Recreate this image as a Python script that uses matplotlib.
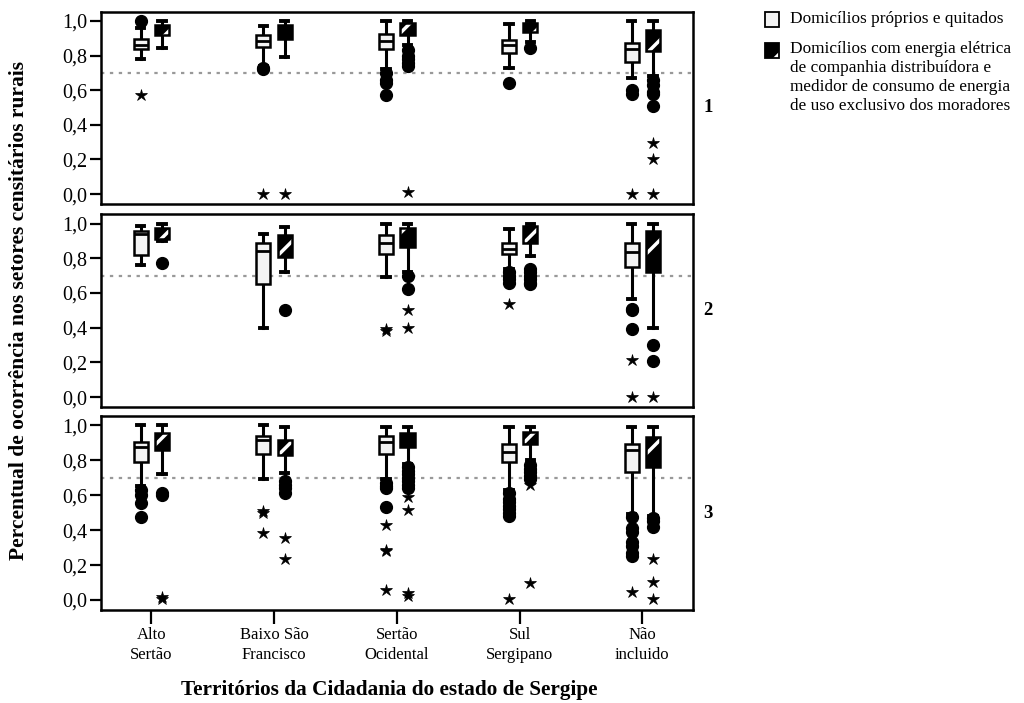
import matplotlib
matplotlib.use("Agg")
import matplotlib.pyplot as plt
from matplotlib.patches import Rectangle, PathPatch

plt.rcParams['font.family'] = ['Liberation Serif', 'DejaVu Serif']
plt.rcParams['hatch.linewidth'] = 2.5

categories = ["Alto\nSertão", "Baixo São\nFrancisco", "Sertão\nOcidental", "Sul\nSergipano", "Não\nincluido"]
panel_labels = ["1", "2", "3"]
yticks = [0.0, 0.2, 0.4, 0.6, 0.8, 1.0]
ytick_labels = ["0,0", "0,2", "0,4", "0,6", "0,8", "1,0"]
ref_line = 0.7
series_names = ["Domicílios próprios e quitados",
                "Domicílios com energia elétrica\nde companhia distribuídora e\nmedidor de consumo de energia\nde uso exclusivo dos moradores"]
xlabel = "Territórios da Cidadania do estado de Sergipe"
ylabel = "Percentual de ocorrência nos setores censitários rurais"

# Series 1: Domicílios próprios e quitados  (rows = panels 1,2,3; columns = categories)
own_q1 = [[0.835, 0.850, 0.840, 0.815, 0.765],
          [0.819, 0.650, 0.823, 0.827, 0.750],
          [0.790, 0.838, 0.834, 0.790, 0.733]]
own_med = [[0.862, 0.885, 0.885, 0.860, 0.835],
           [0.940, 0.842, 0.885, 0.855, 0.833],
           [0.873, 0.914, 0.905, 0.847, 0.861]]
own_q3 = [[0.893, 0.920, 0.925, 0.890, 0.875],
          [0.958, 0.885, 0.935, 0.885, 0.885],
          [0.905, 0.937, 0.937, 0.895, 0.895]]
own_lo = [[0.780, 0.740, 0.720, 0.730, 0.670],
          [0.762, 0.400, 0.690, 0.740, 0.564],
          [0.650, 0.695, 0.690, 0.630, 0.490]]
own_hi = [[0.960, 0.970, 1.000, 0.980, 1.000],
          [0.987, 0.939, 1.000, 0.968, 1.000],
          [1.000, 1.000, 0.990, 0.990, 0.990]]
own_circles = [[[1.0], [0.72, 0.73], [0.70, 0.66, 0.64, 0.57], [0.64], [0.60, 0.58]],
               [[], [], [], [0.72, 0.70, 0.68, 0.66], [0.51, 0.50, 0.39]],
               [[0.63, 0.60, 0.555, 0.475], [], [0.67, 0.65, 0.64, 0.53],
                [0.61, 0.58, 0.56, 0.54, 0.52, 0.50, 0.48],
                [0.475, 0.41, 0.39, 0.33, 0.31, 0.27, 0.25]]]
own_stars = [[[0.57], [0.0], [], [], [0.0]],
             [[], [], [0.39, 0.38], [0.535], [0.215, 0.0]],
             [[], [0.51, 0.50, 0.385], [0.43, 0.285, 0.28, 0.06], [0.005], [0.045]]]

# Series 2: Domicílios com energia elétrica ...
en_q1 = [[0.920, 0.895, 0.920, 0.935, 0.825],
         [0.910, 0.808, 0.866, 0.890, 0.718],
         [0.857, 0.829, 0.876, 0.891, 0.762]]
en_med = [[0.950, 0.940, 0.955, 0.960, 0.890],
          [0.940, 0.870, 0.920, 0.940, 0.880],
          [0.920, 0.880, 0.930, 0.940, 0.860]]
en_q3 = [[0.975, 0.975, 0.990, 0.990, 0.945],
         [0.973, 0.935, 0.973, 0.987, 0.958],
         [0.953, 0.914, 0.956, 0.962, 0.930]]
en_lo = [[0.845, 0.790, 0.860, 0.880, 0.680],
         [0.900, 0.720, 0.720, 0.810, 0.400],
         [0.724, 0.727, 0.780, 0.800, 0.480]]
en_hi = [[1.000, 1.000, 1.000, 1.000, 1.000],
         [1.000, 0.980, 1.000, 1.000, 1.000],
         [1.000, 0.990, 0.990, 0.990, 0.990]]
en_circles = [[[], [], [0.83, 0.80, 0.78, 0.755, 0.74], [0.845], [0.66, 0.63, 0.59, 0.58, 0.51]],
              [[0.77], [0.50], [0.70, 0.62], [0.74, 0.72, 0.70, 0.68, 0.66, 0.65], [0.30, 0.21]],
              [[0.61, 0.60], [0.68, 0.66, 0.64, 0.61], [0.76, 0.74, 0.72, 0.70, 0.68, 0.66, 0.64],
               [0.77, 0.75, 0.73, 0.71, 0.69], [0.47, 0.45, 0.42]]]
en_stars = [[[], [0.0], [0.015], [], [0.295, 0.2, 0.0]],
            [[], [], [0.50, 0.40], [], [0.0]],
            [[0.015, 0.005], [0.355, 0.235], [0.59, 0.515, 0.04, 0.025], [0.66, 0.095],
             [0.235, 0.105, 0.005]]]

fig = plt.figure(figsize=(10.24, 7.03), dpi=100)
W, H = 1024.0, 703.0
left_px, right_px = 101.0, 693.3
panel_px = [(11.7, 204.0), (214.3, 407.0), (416.0, 610.0)]

offsets = [-0.087, 0.087]
box_w = 0.115
positions = list(range(len(categories)))

for p in range(3):
    top, bot = panel_px[p]
    ax = fig.add_axes([left_px / W, 1 - bot / H, (right_px - left_px) / W, (bot - top) / H])
    ax.set_xlim(-0.41, 4.415)
    ax.set_ylim(-0.057, 1.053)
    ax.axhline(ref_line, color='#999999', lw=1.6, ls=(0, (1.5, 2.5)), zorder=0)

    series = [(own_q1, own_med, own_q3, own_lo, own_hi, own_circles, own_stars),
              (en_q1, en_med, en_q3, en_lo, en_hi, en_circles, en_stars)]
    for s, (q1, med, q3, lo, hi, circ, star) in enumerate(series):
        stats = [dict(q1=q1[p][i], med=med[p][i], q3=q3[p][i],
                      whislo=lo[p][i], whishi=hi[p][i], fliers=[])
                 for i in range(len(categories))]
        pos = [x + offsets[s] for x in positions]
        for i in range(len(categories)):
            if circ[p][i]:
                ax.plot([pos[i]] * len(circ[p][i]), circ[p][i], ls='none', marker='o',
                        ms=8.5, color='black', zorder=1)
            if star[p][i]:
                ax.plot([pos[i]] * len(star[p][i]), star[p][i], ls='none', marker='*',
                        ms=9, color='black', markeredgewidth=0.5, zorder=1)
        face = '#f3f3f3' if s == 0 else 'black'
        bp = ax.bxp(stats, positions=pos, widths=box_w, capwidths=0.06,
                    patch_artist=True, showfliers=False, manage_ticks=False,
                    boxprops=dict(facecolor=face, edgecolor='black', linewidth=1.8),
                    whiskerprops=dict(color='black', linewidth=2.2),
                    capprops=dict(color='black', linewidth=2.8),
                    medianprops=dict(color='black', linewidth=2.0))
        for el in bp['whiskers'] + bp['caps']:
            el.set_zorder(2)
        for b in bp['boxes']:
            b.set_zorder(3)
        for m in bp['medians']:
            m.set_zorder(5)
        if s == 1:
            for b in bp['boxes']:
                b.set_edgecolor('white')
                b.set_linewidth(0)
                b.set_hatch('/')
                outline = PathPatch(b.get_path(), transform=b.get_transform(),
                                    facecolor='none', edgecolor='black', linewidth=1.8, zorder=4)
                ax.add_patch(outline)
            for m in bp['medians']:
                m.set_visible(False)

    for sp in ax.spines.values():
        sp.set_linewidth(1.8)
    ax.set_yticks(yticks)
    ax.set_yticklabels(ytick_labels, fontsize=14.5)
    ax.tick_params(axis='y', direction='out', length=8, width=1.6, pad=2)
    if p == 2:
        ax.set_xticks(positions)
        ax.set_xticklabels(categories, fontsize=12, linespacing=1.4)
        ax.tick_params(axis='x', direction='out', length=10, width=1.6, pad=2)
    else:
        ax.set_xticks([])
    ax.text(1.025, 0.5, panel_labels[p], transform=ax.transAxes, ha='center', va='center',
            fontsize=13.5, fontweight='bold')

fig.text(19 / W, 1 - 310 / H, ylabel, rotation=90, ha='center', va='center',
         fontsize=15.5, fontweight='bold')
fig.text(389 / W, 1 - 690 / H, xlabel, ha='center', va='center',
         fontsize=15.3, fontweight='bold')

# legend
r1 = Rectangle((765 / W, 1 - 27 / H), 14 / W, 15 / H, transform=fig.transFigure,
               facecolor='#f3f3f3', edgecolor='black', linewidth=1.3)
fig.patches.append(r1)
r2 = Rectangle((765 / W, 1 - 58 / H), 14 / W, 15 / H, transform=fig.transFigure,
               facecolor='black', edgecolor='white', linewidth=0, hatch='/')
fig.patches.append(r2)
r2o = Rectangle((765 / W, 1 - 58 / H), 14 / W, 15 / H, transform=fig.transFigure,
                facecolor='none', edgecolor='black', linewidth=1.3)
fig.patches.append(r2o)
fig.text(790 / W, 1 - 19 / H, series_names[0], ha='left', va='center', fontsize=12.4)
fig.text(790 / W, 1 - 41 / H, series_names[1], ha='left', va='top', fontsize=12.4,
         linespacing=1.24)

fig.savefig("out.png", dpi=100)
